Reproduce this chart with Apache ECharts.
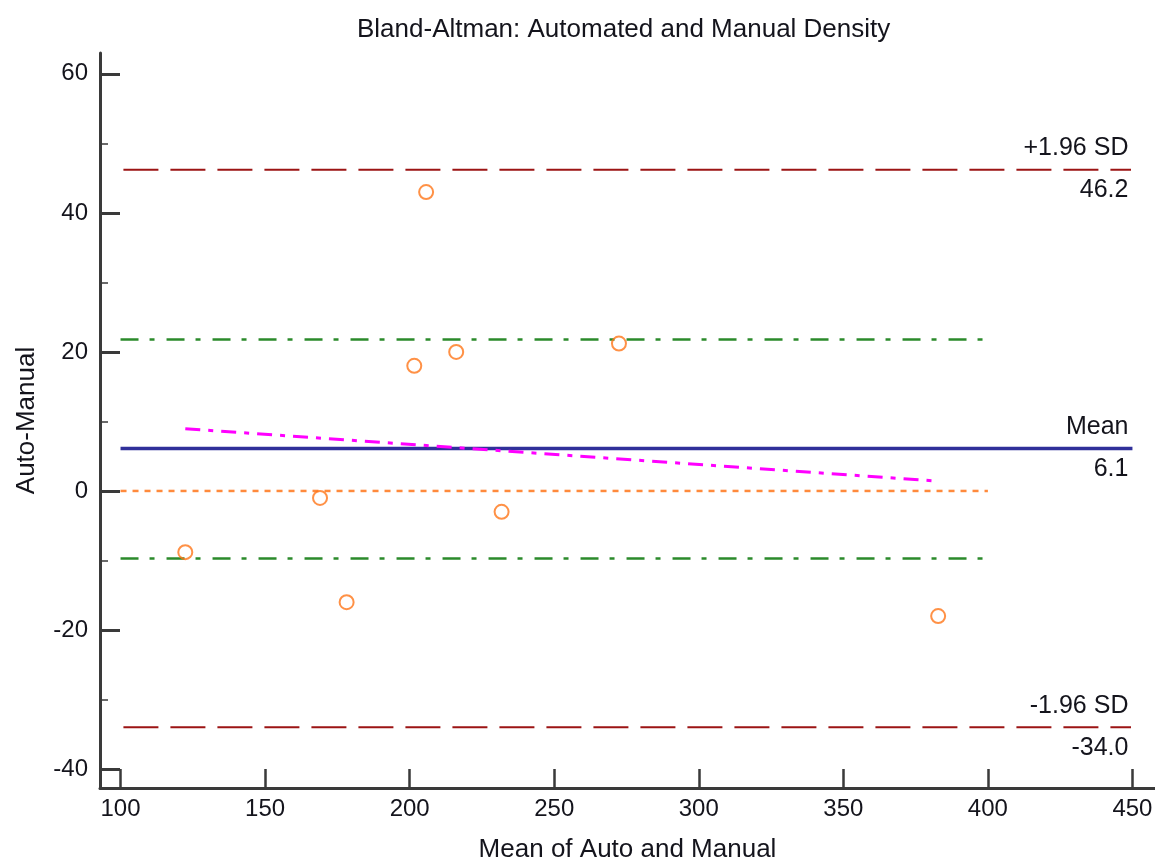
<!DOCTYPE html>
<html>
<head>
<meta charset="utf-8">
<script src="https://cdn.jsdelivr.net/npm/echarts@6/dist/echarts.min.js"></script>
<style>
html,body{margin:0;padding:0;background:#fff;}
#chart{width:1155px;height:862px;}
</style>
</head>
<body>
<div id="chart"></div>
<script>
// ---- data ----
const meanAutoManual = [122.4, 205.7, 201.6, 216.1, 272.4, 169.0, 231.8, 178.2, 382.8];
const diffAutoManual = [-8.8, 43.0, 18.0, 20.0, 21.2, -1.0, -3.0, -16.0, -18.0];
const meanDiff = 6.1;
const upperLoA = 46.2;
const lowerLoA = -34.0;
const ciMeanUpper = 21.8;
const ciMeanLower = -9.7;
const zeroLine = 0;
const regressionX = [122.4, 382.5];
const regressionY = [8.95, 1.42];
const limitRangeX = [100, 450];
const ciRangeX = [100, 400];
const xTickValues = [100, 150, 200, 250, 300, 350, 400, 450];
const yTickValues = [-40, -20, 0, 20, 40, 60];
const yMinorTickValues = [-30, -10, 10, 30, 50];
const labelUpper = ['+1.96 SD', upperLoA.toFixed(1)];
const labelMean = ['Mean', meanDiff.toFixed(1)];
const labelLower = ['-1.96 SD', lowerLoA.toFixed(1)];

const FONT = '"Liberation Sans", Arial, sans-serif';
const TXT = '#14141c';
const AX = '#3a3a3a';

function hline(y, range) { return [[range[0], y], [range[1], y]]; }

function labelPair(y, range, texts) {
  return [
    [{coord: [range[0], y], label: {show: true, position: 'insideEndTop', formatter: texts[0], distance: [4, 9]}},
     {coord: [range[1], y]}],
    [{coord: [range[0], y], label: {show: true, position: 'insideEndBottom', formatter: texts[1], distance: [4, 8]}},
     {coord: [range[1], y]}]
  ];
}

const chart = echarts.init(document.getElementById('chart'), null, {renderer: 'canvas'});
const option = {
  animation: false,
  backgroundColor: '#fff',
  title: {
    text: 'Bland-Altman: Automated and Manual Density',
    left: 352, top: 12,
    textStyle: {fontFamily: FONT, fontSize: 26, fontWeight: 'normal', color: TXT}
  },
  grid: {left: 100, right: 0, top: 53, bottom: 74, containLabel: false, outerBoundsMode: 'none'},
  xAxis: {
    type: 'value', min: 92.9, max: 457.8,
    name: 'Mean of Auto and Manual', nameLocation: 'middle', nameGap: 49,
    nameTextStyle: {fontFamily: FONT, fontSize: 26, color: TXT},
    axisLine: {show: true, onZero: false, lineStyle: {color: AX, width: 3}},
    axisTick: {show: true, inside: true, length: 19, customValues: xTickValues, lineStyle: {color: AX, width: 2.5}},
    axisLabel: {show: true, customValues: xTickValues, fontFamily: FONT, fontSize: 24, color: TXT, margin: 9},
    splitLine: {show: false}
  },
  yAxis: [{
    type: 'value', min: -42.73, max: 63.0,
    name: 'Auto-Manual', nameLocation: 'middle', nameGap: 60, nameRotate: 90,
    nameTextStyle: {fontFamily: FONT, fontSize: 26, color: TXT},
    axisLine: {show: true, onZero: false, lineStyle: {color: AX, width: 3}},
    axisTick: {show: true, inside: true, length: 20, customValues: yTickValues, lineStyle: {color: AX, width: 3}},
    axisLabel: {show: true, customValues: yTickValues, fontFamily: FONT, fontSize: 24, color: TXT, margin: 12},
    splitLine: {show: false}
  }, {
    type: 'value', min: -42.73, max: 63.0, position: 'left', offset: 0,
    axisLine: {show: false, onZero: false},
    axisTick: {show: true, inside: true, length: 8, customValues: yMinorTickValues, lineStyle: {color: AX, width: 1.5}},
    axisLabel: {show: false},
    splitLine: {show: false}
  }],
  series: [
    {
      type: 'line', data: hline(upperLoA, [limitRangeX[0] + 1, limitRangeX[1] - 0.5]), symbol: 'none', silent: true,
      lineStyle: {color: '#9c1414', width: 2, type: [35, 12]}
    },
    {
      type: 'line', data: hline(lowerLoA, [limitRangeX[0] + 1, limitRangeX[1] - 0.5]), symbol: 'none', silent: true,
      lineStyle: {color: '#9c1414', width: 2, type: [35, 12]}
    },
    {
      type: 'line', data: hline(ciMeanUpper, ciRangeX), symbol: 'none', silent: true,
      lineStyle: {color: '#2b8a2b', width: 2.5, type: [18, 11, 5, 12]}
    },
    {
      type: 'line', data: hline(ciMeanLower, ciRangeX), symbol: 'none', silent: true,
      lineStyle: {color: '#2b8a2b', width: 2.5, type: [18, 11, 5, 12]}
    },
    {
      type: 'line', data: hline(zeroLine, ciRangeX), symbol: 'none', silent: true,
      lineStyle: {color: '#ff8a3c', width: 2.5, type: [6, 6]}
    },
    {
      type: 'line', data: hline(meanDiff, limitRangeX), symbol: 'none', silent: true, z: 3,
      lineStyle: {color: '#30309a', width: 3.5, type: 'solid'}
    },
    {
      type: 'line', data: regressionX.map((x, i) => [x, regressionY[i]]), symbol: 'none', silent: true,
      lineStyle: {color: '#ff00ff', width: 3, type: [15, 8, 5, 8]}
    },
    {
      type: 'scatter',
      data: meanAutoManual.map((x, i) => [x, diffAutoManual[i]]),
      symbol: 'circle', symbolSize: 14, z: 5,
      itemStyle: {color: 'rgba(0,0,0,0)', borderColor: '#ff7518', borderWidth: 2},
      markLine: {
        silent: true, symbol: 'none', animation: false,
        lineStyle: {color: 'rgba(0,0,0,0)', width: 1, type: 'solid'},
        label: {show: true, fontFamily: FONT, fontSize: 25, color: TXT},
        emphasis: {disabled: true},
        data: [].concat(
          labelPair(upperLoA, limitRangeX, labelUpper),
          labelPair(meanDiff, limitRangeX, labelMean),
          labelPair(lowerLoA, limitRangeX, labelLower)
        )
      }
    }
  ]
};
chart.setOption(option);
</script>
</body>
</html>
